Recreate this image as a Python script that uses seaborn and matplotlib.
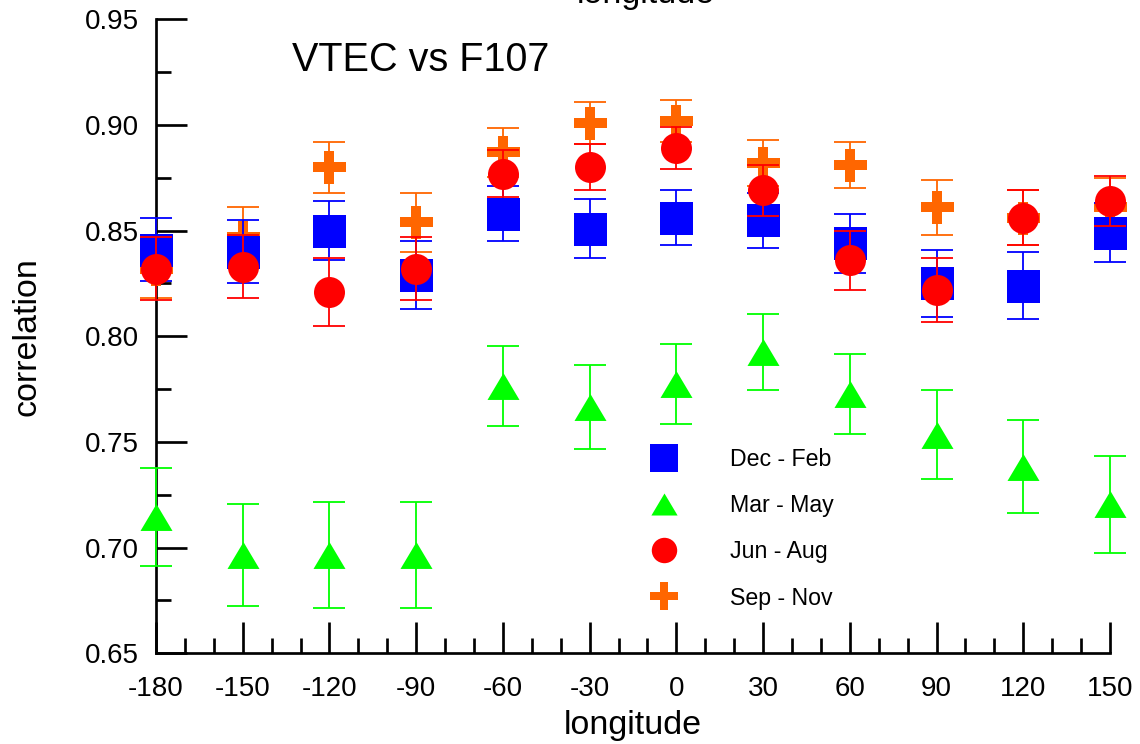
import numpy as np
import pandas as pd
import matplotlib
matplotlib.use("Agg")
import matplotlib.pyplot as plt
from matplotlib.lines import Line2D
from matplotlib.ticker import MultipleLocator, FormatStrFormatter
import seaborn as sns

# ---------------- data ----------------
longitudes = [-180, -150, -120, -90, -60, -30, 0, 30, 60, 90, 120, 150]

dec_feb = [0.841, 0.840, 0.850, 0.829, 0.858, 0.851, 0.856, 0.855, 0.844, 0.825, 0.824, 0.849]
dec_feb_err = [0.015, 0.015, 0.014, 0.016, 0.013, 0.014, 0.013, 0.013, 0.014, 0.016, 0.016, 0.014]

mar_may = [0.7145, 0.6965, 0.6965, 0.6965, 0.7764, 0.7665, 0.7775, 0.7925, 0.7726, 0.7535, 0.7383, 0.7205]
mar_may_err = [0.023, 0.024, 0.025, 0.025, 0.019, 0.020, 0.019, 0.018, 0.019, 0.021, 0.022, 0.023]

jun_aug = [0.832, 0.833, 0.821, 0.832, 0.877, 0.880, 0.889, 0.869, 0.836, 0.822, 0.856, 0.864]
jun_aug_err = [0.015, 0.015, 0.016, 0.015, 0.011, 0.011, 0.010, 0.012, 0.014, 0.015, 0.013, 0.012]

sep_nov = [0.832, 0.847, 0.880, 0.854, 0.887, 0.901, 0.902, 0.882, 0.881, 0.861, 0.856, 0.861]
sep_nov_err = [0.014, 0.014, 0.012, 0.014, 0.0115, 0.010, 0.010, 0.011, 0.011, 0.013, 0.013, 0.014]

series_labels = ["Dec - Feb", "Mar - May", "Jun - Aug", "Sep - Nov"]
x_ticks = [-180, -150, -120, -90, -60, -30, 0, 30, 60, 90, 120, 150]

# ---------------- style ----------------
sns.set_theme(style="white")
plt.rcParams["font.family"] = ["Liberation Sans", "DejaVu Sans"]
plt.rcParams["axes.unicode_minus"] = False
plt.rcParams["text.color"] = "black"
plt.rcParams["axes.labelcolor"] = "black"
plt.rcParams["xtick.color"] = "black"
plt.rcParams["ytick.color"] = "black"

PX = 72.0 / 100.0  # points per pixel at dpi 100

tri = [(-1, -0.84), (1, -0.84), (0, 0.84)]
w = 0.275
plus = [(-w, 1), (w, 1), (w, w), (1, w), (1, -w), (w, -w), (w, -1), (-w, -1),
        (-w, -w), (-1, -w), (-1, w), (-w, w)]

styles = {
    "Dec - Feb": dict(color="#0000FF", marker="s", ms=33 * PX),
    "Mar - May": dict(color="#00FF00", marker=tri, ms=32 * PX),
    "Jun - Aug": dict(color="#FF0000", marker="o", ms=31 * PX),
    "Sep - Nov": dict(color="#FF6600", marker=plus, ms=33 * PX),
}
values = {
    "Dec - Feb": (dec_feb, dec_feb_err),
    "Mar - May": (mar_may, mar_may_err),
    "Jun - Aug": (jun_aug, jun_aug_err),
    "Sep - Nov": (sep_nov, sep_nov_err),
}

fig = plt.figure(figsize=(11.4, 7.44), dpi=100)
ax = fig.add_axes([156 / 1140, 1 - 653.3 / 744, (1110 - 156) / 1140, (653.3 - 19.3) / 744])

draw_order = ["Sep - Nov", "Mar - May", "Dec - Feb", "Jun - Aug"]
for i, lab in enumerate(draw_order):
    y, e = values[lab]
    st = styles[lab]
    cont = ax.errorbar(longitudes, y, yerr=e, fmt="none", ecolor=st["color"],
                       elinewidth=1.3, capsize=15.8 * PX, capthick=1.3,
                       zorder=2 + 2 * i)
    for art in list(cont.lines[1]) + list(cont.lines[2]):
        art.set_clip_on(False)
    df = pd.DataFrame({"lon": longitudes, "val": y})
    sns.scatterplot(data=df, x="lon", y="val", marker=st["marker"], s=st["ms"] ** 2,
                    color=st["color"], linewidth=0, ax=ax, zorder=3 + 2 * i,
                    clip_on=False, legend=False)

ax.set_xlim(-180, 150)
ax.set_ylim(0.65, 0.95)
ax.set_xticks(x_ticks)
ax.set_xticklabels([str(v) for v in x_ticks])
ax.xaxis.set_minor_locator(MultipleLocator(10))
ax.yaxis.set_major_locator(MultipleLocator(0.05))
ax.yaxis.set_minor_locator(MultipleLocator(0.025))
ax.yaxis.set_major_formatter(FormatStrFormatter("%.2f"))

for side in ["top", "right"]:
    ax.spines[side].set_visible(False)
for side in ["left", "bottom"]:
    ax.spines[side].set_linewidth(2.7 * PX)
    ax.spines[side].set_color("black")

ax.tick_params(which="major", direction="in", length=31 * PX, width=2.7 * PX,
               colors="black", labelsize=20, labelcolor="black")
ax.tick_params(which="minor", direction="in", length=15 * PX, width=2.7 * PX,
               colors="black")
ax.tick_params(axis="x", which="major", pad=16.5)
ax.tick_params(axis="y", which="major", pad=12.5)
ax.tick_params(bottom=True, left=True, which="both")

ax.set_xlabel("longitude", fontsize=24.5, labelpad=5.5, color="black")
ax.set_ylabel("correlation", fontsize=24.5, labelpad=30, color="black")

ax.text(292 / 1140, 1 - 71 / 744, "VTEC vs F107", transform=fig.transFigure,
        fontsize=28.5, ha="left", va="baseline", color="black")

# partially clipped duplicate axis title at the top edge (as in the reference)
fig.text(646 / 1140, 1 - 3 / 744, "longitude", fontsize=24.5, ha="center",
         va="baseline", color="black")

handles = []
for lab in series_labels:
    st = styles[lab]
    handles.append(Line2D([], [], linestyle="none", marker=st["marker"],
                          color=st["color"], markersize=st["ms"] * 0.82,
                          markeredgewidth=0, label=lab))
fs = 16.7
fs_px = fs / PX
leg = ax.legend(handles=handles, loc="upper left", frameon=False, fontsize=fs,
                handlelength=1.5, handletextpad=2.1, labelspacing=1.0,
                borderpad=0, borderaxespad=0,
                bbox_to_anchor=((664 - 0.75 * fs_px) / 1140, 1 - 448 / 744),
                bbox_transform=fig.transFigure)
for t in leg.get_texts():
    t.set_color("black")

fig.savefig("out.png", dpi=100)
